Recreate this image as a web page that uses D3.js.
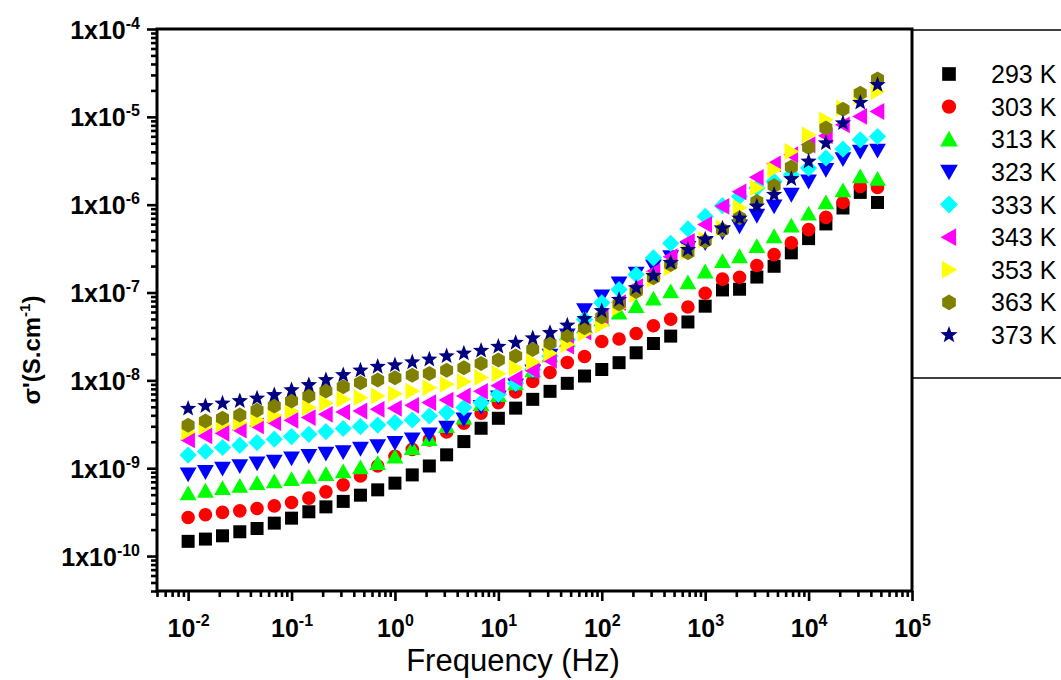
<!DOCTYPE html>
<html>
<head>
<meta charset="utf-8">
<script src="https://cdn.jsdelivr.net/npm/d3@7"></script>
<style>
  html, body { margin: 0; padding: 0; background: #fff; }
  svg { display: block; font-family: Arial, "Liberation Sans", sans-serif; }
</style>
</head>
<body>
<svg id="chart" width="1061" height="680"></svg>
<script>
// ---------- data ----------
const freq = [0.01,0.0147,0.0215,0.0316,0.0464,0.0681,0.1,0.147,0.215,0.316,0.464,0.681,1,1.47,2.15,3.16,4.64,6.81,10,14.7,21.5,31.6,46.4,68.1,100,147,215,316,464,681,1000,1470,2150,3160,4640,6810,10000,14700,21500,31600,46400];

const s293 = [1.47e-10,1.56e-10,1.70e-10,1.89e-10,2.06e-10,2.37e-10,2.70e-10,3.19e-10,3.63e-10,4.19e-10,4.93e-10,5.67e-10,6.76e-10,8.39e-10,1.06e-9,1.42e-9,2.01e-9,2.85e-9,3.70e-9,4.83e-9,6.08e-9,7.50e-9,9.25e-9,1.12e-8,1.33e-8,1.59e-8,2.06e-8,2.63e-8,3.19e-8,4.62e-8,6.99e-8,1.07e-7,1.09e-7,1.50e-7,1.99e-7,2.83e-7,4.11e-7,6.04e-7,9.17e-7,1.38e-6,1.06e-6];
const s303 = [2.75e-10,2.95e-10,3.14e-10,3.27e-10,3.48e-10,3.73e-10,4.07e-10,4.56e-10,5.38e-10,6.46e-10,8.17e-10,1.06e-9,1.37e-9,1.64e-9,2.10e-9,2.58e-9,3.25e-9,4.24e-9,5.58e-9,7.36e-9,9.69e-9,1.23e-8,1.60e-8,1.87e-8,2.77e-8,2.96e-8,3.42e-8,4.19e-8,4.97e-8,6.84e-8,9.82e-8,1.42e-7,1.49e-7,2.03e-7,2.70e-7,3.67e-7,5.20e-7,7.17e-7,1.06e-6,1.61e-6,1.57e-6];
const s313 = [5.16e-10,5.52e-10,5.93e-10,6.29e-10,6.76e-10,7.06e-10,7.50e-10,7.96e-10,8.55e-10,9.17e-10,1.02e-9,1.14e-9,1.35e-9,1.69e-9,2.14e-9,3.00e-9,3.77e-9,5.34e-9,6.76e-9,9.25e-9,1.30e-8,1.92e-8,2.85e-8,4.11e-8,4.93e-8,5.88e-8,6.99e-8,8.48e-8,1.03e-7,1.30e-7,1.73e-7,2.27e-7,2.58e-7,3.36e-7,4.36e-7,5.77e-7,7.90e-7,1.06e-6,1.45e-6,2.10e-6,1.96e-6];
const s323 = [8.55e-10,9.08e-10,9.92e-10,1.06e-9,1.14e-9,1.19e-9,1.30e-9,1.38e-9,1.47e-9,1.53e-9,1.67e-9,1.79e-9,1.95e-9,2.14e-9,2.43e-9,2.90e-9,3.60e-9,5.00e-9,6.41e-9,8.77e-9,1.27e-8,1.92e-8,3.25e-8,6.32e-8,9.08e-8,1.27e-7,1.64e-7,1.99e-7,2.53e-7,3.22e-7,3.67e-7,4.87e-7,5.67e-7,7.50e-7,9.57e-7,1.30e-6,1.84e-6,2.50e-6,3.31e-6,4.03e-6,4.14e-6];
const s333 = [1.41e-9,1.55e-9,1.72e-9,1.82e-9,1.96e-9,2.14e-9,2.29e-9,2.43e-9,2.61e-9,2.83e-9,2.98e-9,3.10e-9,3.31e-9,3.54e-9,3.93e-9,4.30e-9,4.90e-9,5.55e-9,6.93e-9,9.25e-9,1.33e-8,1.89e-8,2.92e-8,4.93e-8,7.64e-8,1.08e-7,1.60e-7,2.48e-7,3.63e-7,5.30e-7,7.36e-7,9.75e-7,1.24e-6,1.55e-6,1.84e-6,2.19e-6,2.61e-6,3.40e-6,4.30e-6,5.48e-6,5.97e-6];
const s343 = [2.10e-9,2.33e-9,2.50e-9,2.72e-9,3.03e-9,3.31e-9,3.51e-9,3.77e-9,4.11e-9,4.36e-9,4.48e-9,4.68e-9,4.81e-9,5.20e-9,5.58e-9,5.97e-9,6.64e-9,7.50e-9,8.71e-9,1.05e-8,1.29e-8,1.69e-8,2.45e-8,3.54e-8,5.20e-8,7.69e-8,1.17e-7,1.73e-7,2.56e-7,3.83e-7,5.93e-7,9.57e-7,1.40e-6,2.05e-6,2.92e-6,3.70e-6,4.81e-6,6.08e-6,8.11e-6,1.01e-5,1.15e-5];
const s353 = [2.58e-9,2.98e-9,3.16e-9,3.31e-9,3.54e-9,4.00e-9,4.48e-9,4.90e-9,5.48e-9,6.08e-9,6.36e-9,6.64e-9,7.03e-9,7.55e-9,8.26e-9,9.01e-9,9.67e-9,1.08e-8,1.19e-8,1.38e-8,1.62e-8,2.03e-8,2.56e-8,3.42e-8,4.27e-8,6.70e-8,9.49e-8,1.41e-7,1.91e-7,2.92e-7,4.00e-7,5.43e-7,9.25e-7,1.55e-6,2.50e-6,4.03e-6,6.24e-6,9.25e-6,1.26e-5,1.70e-5,1.94e-5];
const s363 = [3.08e-9,3.45e-9,3.70e-9,4.03e-9,4.56e-9,5.11e-9,5.82e-9,6.64e-9,7.55e-9,8.48e-9,9.42e-9,1.01e-8,1.07e-8,1.14e-8,1.20e-8,1.30e-8,1.39e-8,1.56e-8,1.70e-8,1.89e-8,2.25e-8,2.65e-8,3.25e-8,3.97e-8,5.27e-8,7.40e-8,1.03e-7,1.47e-7,2.08e-7,2.83e-7,3.83e-7,5.20e-7,7.11e-7,1.09e-6,1.64e-6,2.68e-6,4.48e-6,7.44e-6,1.22e-5,1.86e-5,2.70e-5];
const s373 = [4.77e-9,5.11e-9,5.48e-9,5.82e-9,6.24e-9,6.81e-9,7.76e-9,8.85e-9,1.01e-8,1.15e-8,1.30e-8,1.43e-8,1.49e-8,1.61e-8,1.73e-8,1.89e-8,2.03e-8,2.18e-8,2.42e-8,2.68e-8,3.02e-8,3.48e-8,4.22e-8,5.02e-8,6.17e-8,8.28e-8,1.13e-7,1.56e-7,2.19e-7,3.08e-7,4.03e-7,5.38e-7,6.98e-7,9.57e-7,1.30e-6,1.96e-6,3.10e-6,5.02e-6,8.48e-6,1.45e-5,2.31e-5];

const seriesNames = ["293 K","303 K","313 K","323 K","333 K","343 K","353 K","363 K","373 K"];
const seriesValues = [s293,s303,s313,s323,s333,s343,s353,s363,s373];

const xTickExponents = [-2,-1,0,1,2,3,4,5];
const yTickExponents = [-4,-5,-6,-7,-8,-9,-10];
const xTitle = "Frequency (Hz)";

// ---------- styles ----------
const colors = ["#000000","#ff0000","#00ff00","#0000ff","#00ffff","#ff00ff","#ffff00","#808000","#000080"];

// custom symbol types (size = half-extent r)
function poly(points) {
  return { draw(ctx, r) {
    points.forEach(([px,py],i) => i ? ctx.lineTo(px*r, py*r) : ctx.moveTo(px*r, py*r));
    ctx.closePath();
  }};
}
const symSquare  = poly([[-1,-1],[1,-1],[1,1],[-1,1]]);
const symCircle  = { draw(ctx, r) { ctx.moveTo(r, 0); ctx.arc(0, 0, r, 0, 2*Math.PI); } };
const symUp      = poly([[0,-1],[1.05,0.85],[-1.05,0.85]]);
const symDown    = poly([[0,1],[1.05,-0.85],[-1.05,-0.85]]);
const symLeft    = poly([[-1,0],[0.85,-1.05],[0.85,1.05]]);
const symRight   = poly([[1,0],[-0.85,-1.05],[-0.85,1.05]]);
const symDiamond = poly([[0,-1],[1,0],[0,1],[-1,0]]);
const hexPts = d3.range(6).map(i => [Math.cos(Math.PI/2 + i*Math.PI/3), Math.sin(Math.PI/2 + i*Math.PI/3)]);
const symHex     = poly(hexPts);
const starPts = d3.range(10).map(i => { const a = -Math.PI/2 + i*Math.PI/5, rr = i%2 ? 0.42 : 1; return [rr*Math.cos(a), rr*Math.sin(a)]; });
const symStar    = poly(starPts);

const symTypes = [symSquare,symCircle,symUp,symDown,symDiamond,symLeft,symRight,symHex,symStar];
const symSizes = [6.5,6.8,8,8,8.6,8,8,7.5,8.6];

// ---------- layout ----------
const svg = d3.select("#chart");
const L = 157, R = 912, T = 29, B = 591;

const x = d3.scaleLog().domain([0.005, 1e5]).range([L, R]);
const y = d3.scaleLog().domain([4e-11, 1e-4]).range([B, T]);

const isMajor = d => Math.abs(Math.log10(d) - Math.round(Math.log10(d))) < 1e-6;

// X axis
const xAxis = svg.append("g").attr("transform", `translate(0,${B})`)
  .call(d3.axisBottom(x).tickValues(x.ticks()).tickFormat(() => "").tickSizeOuter(0));
xAxis.select(".domain").remove();
xAxis.selectAll(".tick line")
  .attr("y2", d => isMajor(d) ? 10 : 6)
  .attr("stroke", "#000").attr("stroke-width", 2.6);
xAxis.selectAll(".tick").filter(d => isMajor(d)).append("text")
  .attr("y", 46).attr("fill", "#000").attr("text-anchor", "middle")
  .attr("font-size", 25).attr("font-weight", "bold")
  .each(function(d) {
    const t = d3.select(this);
    t.append("tspan").text("10");
    t.append("tspan").attr("font-size", 16).attr("dy", -11).text(Math.round(Math.log10(d)));
  });

// Y axis
const yAxis = svg.append("g").attr("transform", `translate(${L},0)`)
  .call(d3.axisLeft(y).tickValues(y.ticks()).tickFormat(() => "").tickSizeOuter(0));
yAxis.select(".domain").remove();
yAxis.selectAll(".tick line")
  .attr("x2", d => isMajor(d) ? -10 : -6)
  .attr("stroke", "#000").attr("stroke-width", 2.6);
yAxis.selectAll(".tick").filter(d => isMajor(d) && yTickExponents.includes(Math.round(Math.log10(d)))).append("text")
  .attr("x", -17).attr("dy", 9).attr("fill", "#000").attr("text-anchor", "end")
  .attr("font-size", 25).attr("font-weight", "bold")
  .each(function(d) {
    const t = d3.select(this);
    t.append("tspan").text("1x10");
    t.append("tspan").attr("font-size", 16).attr("dy", -10).text(Math.round(Math.log10(d)));
  });

// frame
svg.append("rect").attr("x", L).attr("y", T).attr("width", R - L).attr("height", B - T)
  .attr("fill", "none").attr("stroke", "#000").attr("stroke-width", 3);

// data points
seriesValues.forEach((vals, si) => {
  const sym = d3.symbol().type(symTypes[si]).size(symSizes[si]);
  svg.append("g").selectAll("path").data(freq.map((f, i) => [f, vals[i]])).join("path")
    .attr("d", sym)
    .attr("transform", d => `translate(${x(d[0])},${y(d[1])})`)
    .attr("fill", colors[si]);
});

// axis titles
svg.append("text").attr("x", 513).attr("y", 671).attr("text-anchor", "middle")
  .attr("font-size", 31).attr("fill", "#000").text(xTitle);

const yt = svg.append("text").attr("transform", "translate(40,350) rotate(-90)")
  .attr("text-anchor", "middle").attr("font-size", 24).attr("font-weight", "bold").attr("fill", "#000");
yt.append("tspan").text("σ'(S.cm");
yt.append("tspan").attr("font-size", 15).attr("dy", -10).text("-1");
yt.append("tspan").attr("dy", 10).text(")");

// legend
const lg = svg.append("g");
lg.append("line").attr("x1", R).attr("x2", 1061).attr("y1", 30).attr("y2", 30).attr("stroke", "#000").attr("stroke-width", 1.5);
lg.append("line").attr("x1", R).attr("x2", 1061).attr("y1", 378).attr("y2", 378).attr("stroke", "#000").attr("stroke-width", 1.5);
const legY = d3.scalePoint().domain(seriesNames).range([74, 335]);
seriesNames.forEach((name, si) => {
  lg.append("path").attr("d", d3.symbol().type(symTypes[si]).size(symSizes[si] * 1.05)())
    .attr("transform", `translate(949,${legY(name)})`).attr("fill", colors[si]);
  lg.append("text").attr("x", 991).attr("y", legY(name) + 9).attr("font-size", 25).attr("fill", "#000").text(name);
});
</script>
</body>
</html>
